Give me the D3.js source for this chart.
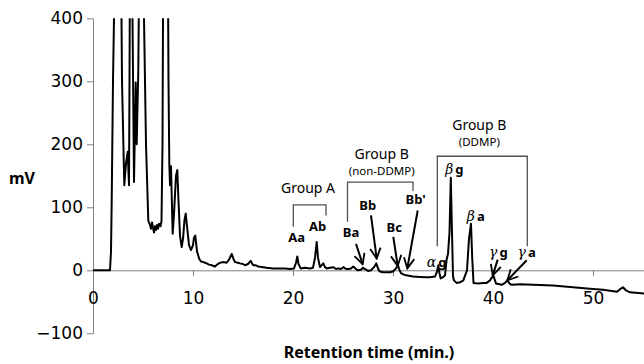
<!DOCTYPE html>
<html>
<head>
<meta charset="utf-8">
<script src="https://cdn.jsdelivr.net/npm/d3@7"></script>
<style>
  body { margin: 0; background: #fff; }
  svg { display: block; font-family: "Noto Sans", sans-serif; }
</style>
</head>
<body>
<svg width="644" height="364"></svg>
<script>
// retention time (min.) and detector signal (mV)
var time = [0, 1.7, 1.8, 1.87, 2.0, 2.2, 2.5, 2.8, 2.9, 3.13, 3.3, 3.47, 3.6, 3.65, 3.8, 3.95, 4.1,
  4.27, 4.37, 4.53, 4.63, 4.85, 5.1, 5.3, 5.53, 5.7, 5.8, 5.9, 6.0, 6.1, 6.2, 6.3, 6.4, 6.5, 6.6,
  6.75, 6.85, 6.95, 7.05, 7.25, 7.45, 7.55, 7.63, 7.7, 7.8, 7.9, 7.97, 8.1, 8.3, 8.43, 8.55, 8.7,
  8.87, 9.0, 9.15, 9.27, 9.4, 9.6, 9.8, 10.0, 10.1, 10.23, 10.4, 10.63, 10.8, 11.03, 11.2, 11.37,
  11.6, 11.87, 12.2, 12.4, 12.7, 13.0, 13.37, 13.6, 13.87, 14.05, 14.2, 14.5, 14.7, 15.0, 15.2,
  15.5, 15.77, 15.9, 16.03, 16.3, 16.53, 17.0, 17.37, 18.0, 18.7, 19.2, 19.7, 20.1, 20.3, 20.43,
  20.55, 20.77, 21.2, 21.7, 22.0, 22.2, 22.37, 22.5, 22.7, 23.03, 23.2, 23.37, 23.7, 24.03, 24.3,
  24.53, 24.8, 25.03, 25.3, 25.5, 25.8, 26.03, 26.3, 26.5, 26.8, 27.0, 27.3, 27.5, 27.8, 28.1,
  28.33, 28.5, 28.67, 29.0, 29.33, 29.7, 30.0, 30.3, 30.5, 30.65, 30.83, 31.1, 31.33, 31.7, 32.0,
  32.7, 33.3, 33.7, 34.2, 34.4, 34.53, 34.65, 34.77, 35.0, 35.2, 35.37, 35.5, 35.65, 35.78, 35.9,
  36.0, 36.1, 36.37, 36.7, 37.03, 37.4, 37.6, 37.8, 37.92, 38.05, 38.53, 39.0, 39.37, 39.7, 40.03,
  40.3, 40.87, 41.2, 41.43, 41.65, 41.87, 42.7, 44, 46, 48, 49.4, 51, 52.4, 52.7, 53.0, 53.3, 53.7,
  55.1, 56];
var signal = [0, 0, 30, 111, 300, 500, 1200, 500, 300, 135, 170, 188, 135, 300, 900, 400, 140,
  298, 200, 317, 500, 1200, 400, 200, 79, 72, 66, 76, 68, 60, 70, 64, 72, 66, 74,
  70, 78, 200, 600, 1400, 600, 300, 170, 135, 165, 100, 58, 90, 150, 159, 110, 55,
  37, 50, 80, 90, 70, 40, 32, 40, 52, 55, 30, 18, 14, 13, 12, 11,
  9, 8, 6, 9, 12, 13, 12, 17, 26, 18, 13, 12, 11, 10, 8,
  10, 15, 11, 8, 8, 6, 5, 4, 3, 3, 3, 2, 3, 12, 22,
  10, 3, 4, 3, 4, 20, 45, 20, 5, 11, 5, 3, 4, 5, 2,
  3, 2, 5, 2, 2, 3, 6, 2, 0, 1, 4, 1, -1, 0, 5,
  11, 3, -2, -3, -3, -3, -2, 3, 8, 0, -5, -7, -8, -9, -10,
  -10.5, -11, -11, -10, -2, 8, -5, -13, -11, -8, 18, 26, 60, 147, 60,
  -10, -16, -20, -19, -16, 0, 50, 74, 20, -20, -21, -20, -20, -16, -8,
  -21, -23, -20, -16, -21, -23, -22, -23, -24, -27, -29, -31, -34, -30, -27, -32, -35,
  -37, -38];

var xTicks = [0, 10, 20, 30, 40, 50];
var yTicks = [-100, 0, 100, 200, 300, 400];

// peak labels: [text, time, mV]
var peakLabels = [["Aa", 20.37, 45], ["Ab", 22.47, 62], ["Ba", 25.8, 53], ["Bb", 27.47, 95],
  ["Bc", 30.13, 61], ["Bb'", 32.27, 106]];
var greekLabels = [["α", "g", 34.35, 5], ["β", "g", 36.13, 153.5], ["β", "a", 38.28, 79],
  ["γ", "g", 40.53, 21], ["γ", "a", 43.37, 21]];
// arrows: [fromTime, fromMV, toTime, toMV]
var arrows = [[26.3, 42, 26.97, 9.5], [27.8, 87, 28.37, 18.6], [30.03, 53, 30.47, 7],
  [32.47, 95, 31.43, 3], [40.47, 17, 39.97, -8], [43.37, 16, 41.43, -16]];
// brackets: [leftTime, rightTime, topMV, leftBottomMV, rightBottomMV]
var brackets = [[20.03, 23.3, 104, 69, 87], [25.45, 32.0, 140, 77, 126], [34.43, 43.43, 181, 38, 38]];
// group titles: [title, subtitle, time, mV]
var groups = [["Group A", null, 21.5, 122], ["Group B", "(non-DDMP)", 28.87, 177], ["Group B", "(DDMP)", 38.63, 223]];

var svg = d3.select("svg"),
    width = +svg.attr("width"),
    height = +svg.attr("height");

var x = d3.scaleLinear().domain([0, 60]).range([93, 693]);
var y = d3.scaleLinear().domain([-100, 400]).range([333.3, 18.3]);

svg.append("defs").append("clipPath")
    .attr("id", "plot")
  .append("rect")
    .attr("x", x(0)).attr("y", y(400))
    .attr("width", width - x(0)).attr("height", y(-100) - y(400));

svg.append("defs").append("marker")
    .attr("id", "head")
    .attr("viewBox", "0 0 10 10")
    .attr("refX", 9).attr("refY", 5)
    .attr("markerWidth", 6.5).attr("markerHeight", 6.5)
    .attr("markerUnits", "strokeWidth")
    .attr("orient", "auto")
  .append("path")
    .attr("d", "M1,1 L9,5 L1,9")
    .attr("fill", "none")
    .attr("stroke", "#000")
    .attr("stroke-width", 1.4);

// axes
var yAxis = svg.append("g")
    .attr("transform", "translate(" + x(0) + ",0)")
    .call(d3.axisLeft(y).tickValues(yTicks).tickSize(6).tickSizeOuter(0).tickPadding(4));

var xAxis = svg.append("g")
    .attr("transform", "translate(0," + y(0) + ")")
    .call(d3.axisBottom(x).tickValues(xTicks).tickSize(6).tickSizeOuter(0).tickPadding(16));

[xAxis, yAxis].forEach(function(g) {
  g.selectAll(".domain, line").attr("stroke", "#808080");
  g.selectAll("text")
      .attr("fill", "#000")
      .style("font-size", "17px")
      .style("font-family", "'DejaVu Sans', sans-serif");
});

// chromatogram trace
var line = d3.line()
    .x(function(d, i) { return x(time[i]); })
    .y(function(d) { return y(d); });

svg.append("path")
    .datum(signal)
    .attr("clip-path", "url(#plot)")
    .attr("fill", "none")
    .attr("stroke", "#000")
    .attr("stroke-width", 2)
    .attr("stroke-linejoin", "round")
    .attr("d", line);

// brackets
svg.append("g").selectAll("path")
    .data(brackets)
    .enter().append("path")
      .attr("fill", "none")
      .attr("stroke", "#505050")
      .attr("stroke-width", 1.3)
      .attr("d", function(d) {
        return "M" + x(d[0]) + "," + y(d[3]) + "V" + y(d[2]) + "H" + x(d[1]) + "V" + y(d[4]);
      });

// group titles
var gt = svg.append("g").selectAll("g")
    .data(groups)
    .enter().append("g");

gt.append("text")
    .attr("x", function(d) { return x(d[2]); })
    .attr("y", function(d) { return y(d[3]); })
    .attr("text-anchor", "middle")
    .style("font-size", "14px")
    .text(function(d) { return d[0]; });

gt.filter(function(d) { return d[1]; }).append("text")
    .attr("x", function(d) { return x(d[2]); })
    .attr("y", function(d) { return y(d[3]) + 16; })
    .attr("text-anchor", "middle")
    .style("font-size", "11.5px")
    .text(function(d) { return d[1]; });

// peak labels
svg.append("g").selectAll("text")
    .data(peakLabels)
    .enter().append("text")
      .attr("x", function(d) { return x(d[1]); })
      .attr("y", function(d) { return y(d[2]); })
      .attr("text-anchor", "middle")
      .style("font-size", "13px")
      .style("font-weight", "bold")
      .text(function(d) { return d[0]; });

var gl = svg.append("g").selectAll("text")
    .data(greekLabels)
    .enter().append("text")
      .attr("x", function(d) { return x(d[2]); })
      .attr("y", function(d) { return y(d[3]); })
      .attr("text-anchor", "middle")
      .style("font-size", "13px")
      .style("font-weight", "bold");

gl.append("tspan")
    .style("font-family", "'DejaVu Serif', serif")
    .style("font-style", "italic")
    .style("font-weight", "normal")
    .style("font-size", "14px")
    .text(function(d) { return d[0]; });

gl.append("tspan")
    .attr("dx", 2)
    .text(function(d) { return d[1]; });

// arrows
svg.append("g").selectAll("line")
    .data(arrows)
    .enter().append("line")
      .attr("x1", function(d) { return x(d[0]); })
      .attr("y1", function(d) { return y(d[1]); })
      .attr("x2", function(d) { return x(d[2]); })
      .attr("y2", function(d) { return y(d[3]); })
      .attr("stroke", "#000")
      .attr("stroke-width", 2)
      .attr("marker-end", "url(#head)");

// axis titles
svg.append("text")
    .attr("x", 22)
    .attr("y", 184)
    .attr("text-anchor", "middle")
    .style("font-size", "16px")
    .style("font-weight", "bold")
    .text("mV");

svg.append("text")
    .attr("x", 369)
    .attr("y", 358)
    .attr("text-anchor", "middle")
    .style("font-size", "16px")
    .style("font-weight", "bold")
    .text("Retention time (min.)");
</script>
</body>
</html>
